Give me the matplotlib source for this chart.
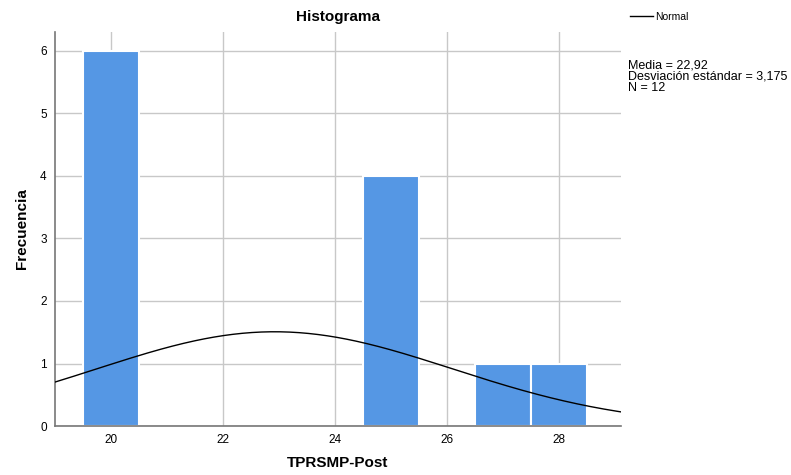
import numpy as np
import matplotlib.pyplot as plt

valores = [20, 25, 27, 28]
frecuencias = [6, 4, 1, 1]
media = 22.92
desv = 3.175
n = 12

x_ticks = [20, 22, 24, 26, 28]
y_ticks = [0, 1, 2, 3, 4, 5, 6]

plt.rcParams['font.family'] = ['Liberation Sans', 'DejaVu Sans']

fig = plt.figure(figsize=(7.91, 4.75), dpi=100)
ax = fig.add_axes([0.0695, 0.103, 0.7155, 0.8296])

ax.bar(valores, frecuencias, width=1.0, color='#5597e4', edgecolor='white', linewidth=1.5, zorder=2)

# curva normal escalada (N * ancho de intervalo)
xs = np.linspace(19.0, 29.1, 300)
ys = n * 1.0 / (desv * np.sqrt(2 * np.pi)) * np.exp(-0.5 * ((xs - media) / desv) ** 2)
ax.plot(xs, ys, color='black', lw=1, zorder=3, label='Normal')

ax.set_xlim(19.0, 29.1)
ax.set_ylim(0, 6.3)
ax.set_xticks(x_ticks)
ax.set_yticks(y_ticks)
ax.grid(color='#c8c8c8', linewidth=1, zorder=0)
ax.set_axisbelow(True)

for s in ['top', 'right']:
    ax.spines[s].set_visible(False)
for s in ['left', 'bottom']:
    ax.spines[s].set_color('#777777')
    ax.spines[s].set_linewidth(1.2)
ax.tick_params(length=0, labelsize=8.5, pad=6)

ax.set_title('Histograma', fontsize=11, fontweight='bold', pad=8)
ax.set_xlabel('TPRSMP-Post', fontsize=11, fontweight='bold', labelpad=7)
ax.set_ylabel('Frecuencia', fontsize=11, fontweight='bold', labelpad=8)

fig.legend(loc='upper left', bbox_to_anchor=(0.785, 0.995), frameon=False,
           fontsize=7.5, handlelength=2.2, handletextpad=0.2)

fig.text(0.794, 0.875, 'Media = 22,92\nDesviación estándar = 3,175\nN = 12',
         fontsize=9, va='top', ha='left', linespacing=0.95)

fig.savefig('out.png', dpi=100)
